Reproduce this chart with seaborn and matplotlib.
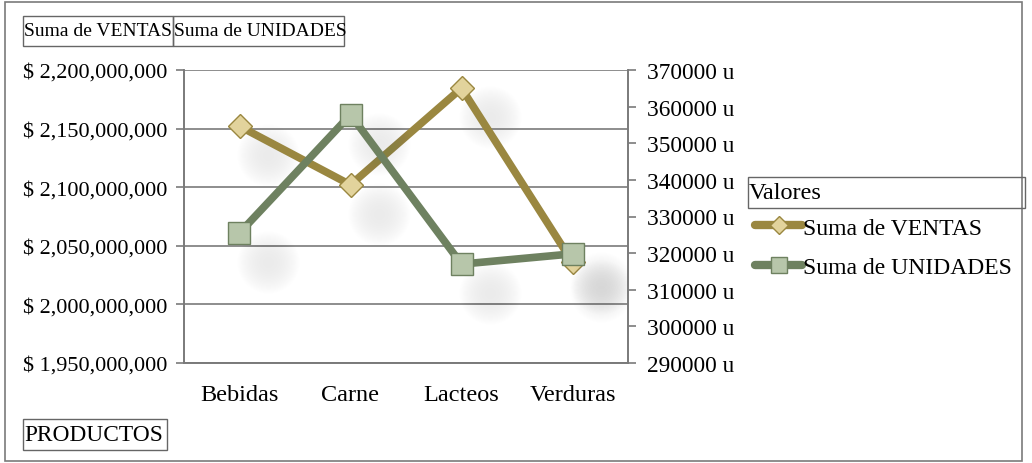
import numpy as np
import pandas as pd
import matplotlib
matplotlib.use("Agg")
import matplotlib.pyplot as plt
import seaborn as sns
from matplotlib.patches import Rectangle
from matplotlib.lines import Line2D
from matplotlib.ticker import FuncFormatter, MultipleLocator
from matplotlib.transforms import ScaledTranslation

# -------------------------
# Data
# -------------------------
productos = ["Bebidas", "Carne", "Lacteos", "Verduras"]
ventas = [2152000000, 2102000000, 2184500000, 2036000000]
unidades = [325500, 357800, 317000, 319800]

ventas_ticks = [1950000000, 2000000000, 2050000000, 2100000000, 2150000000, 2200000000]
unidades_ticks = [290000, 300000, 310000, 320000, 330000, 340000, 350000, 360000, 370000]

df = pd.DataFrame({"PRODUCTOS": productos, "VENTAS": ventas, "UNIDADES": unidades})
df["pos"] = range(len(productos))

# colours
c_ventas = "#9a8740"
c_ventas_face = "#e2d39c"
c_unid = "#6e8160"
c_unid_face = "#b7c6aa"
grey = "#7a7a7a"

sns.set_style("white")
plt.rcParams["font.family"] = ["Liberation Serif", "DejaVu Serif"]
plt.rcParams["text.color"] = "black"
plt.rcParams["xtick.labelcolor"] = "black"
plt.rcParams["ytick.labelcolor"] = "black"

W, H = 1032, 464
fig = plt.figure(figsize=(W / 100, H / 100), dpi=100)


def fx(x):
    return x / W


def fy(y):
    return 1 - y / H


ax = fig.add_axes([fx(184), fy(364), fx(628) - fx(184), fy(71) - fy(364)])
ax2 = ax.twinx()

# soft shadows under the markers
shadow = ax.transData + ScaledTranslation(0.28, -0.29, fig.dpi_scale_trans)
shadow2 = ax2.transData + ScaledTranslation(0.28, -0.29, fig.dpi_scale_trans)
for s in np.linspace(2000, 60, 20):
    ax.scatter(df["pos"], df["VENTAS"], s=s, color="#808080", alpha=0.006,
               linewidths=0, transform=shadow, zorder=0)
    ax2.scatter(df["pos"], df["UNIDADES"], s=s, color="#808080", alpha=0.006,
                linewidths=0, transform=shadow2, zorder=0)

sns.lineplot(data=df, x="pos", y="VENTAS", ax=ax, color=c_ventas, linewidth=5.5,
             marker="D", markersize=12.5, markerfacecolor=c_ventas_face,
             markeredgecolor=c_ventas, markeredgewidth=1, zorder=3)
sns.lineplot(data=df, x="pos", y="UNIDADES", ax=ax2, color=c_unid, linewidth=5.5,
             marker="s", markersize=16, markerfacecolor=c_unid_face,
             markeredgecolor=c_unid, markeredgewidth=1, zorder=3)

# left axis
ax.set_ylim(ventas_ticks[0], ventas_ticks[-1])
ax.set_yticks(ventas_ticks)
ax.yaxis.set_major_formatter(FuncFormatter(lambda v, p: "$ {:,.0f}".format(v)))
ax.grid(axis="y", color=grey, linewidth=1.2)
ax.set_axisbelow(True)

# right axis
ax2.set_ylim(unidades_ticks[0], unidades_ticks[-1])
ax2.set_yticks(unidades_ticks)
ax2.yaxis.set_major_formatter(FuncFormatter(lambda v, p: "{:.0f} u".format(v)))
ax2.grid(False)

# category axis
ax.set_xlim(-0.5, len(productos) - 0.5)
ax.set_xticks(df["pos"])
ax.set_xticklabels(productos)
ax.xaxis.set_minor_locator(MultipleLocator(1, offset=0.5))
ax.tick_params(axis="x", which="major", length=0, pad=15, labelsize=17.5)
ax.tick_params(axis="x", which="minor", length=6, width=1.2, color=grey, direction="out")
ax.tick_params(axis="y", length=6, width=1.2, color=grey, direction="out", labelsize=16, pad=6)
ax2.tick_params(axis="y", length=6, width=1.2, color=grey, direction="out", labelsize=16.8, pad=8)
ax.set_xlabel("")
ax.set_ylabel("")
ax2.set_ylabel("")

for a in (ax, ax2):
    a.patch.set_alpha(0)
    for side in ("left", "right", "bottom"):
        a.spines[side].set_visible(True)
        a.spines[side].set_color(grey)
        a.spines[side].set_linewidth(1.2)
    a.spines["top"].set_visible(False)

# outer chart frame
fig.add_artist(Rectangle((fx(5), fy(462)), fx(1022) - fx(5), fy(3) - fy(462),
                         transform=fig.transFigure, fill=False, edgecolor=grey, linewidth=1.2))


def label_box(x0, y0, x1, y1, text, size):
    fig.add_artist(Rectangle((fx(x0), fy(y1)), fx(x1) - fx(x0), fy(y0) - fy(y1),
                             transform=fig.transFigure, fill=False, edgecolor="#666666", linewidth=1))
    fig.text(fx(x0 + 1), fy((y0 + y1) / 2), text, fontsize=size, va="center", ha="left")


# field buttons
label_box(23, 17, 173, 47, "Suma de VENTAS", 14)
label_box(173, 17, 344, 47, "Suma de UNIDADES", 14)
label_box(23, 420, 167, 451, "PRODUCTOS", 16.8)
label_box(748, 178, 1025, 209, "Valores", 17.5)

# legend
handles = [
    Line2D([], [], color=c_ventas, linewidth=6, solid_capstyle="round", marker="D", markersize=9,
           markerfacecolor=c_ventas_face, markeredgecolor=c_ventas),
    Line2D([], [], color=c_unid, linewidth=6, solid_capstyle="round", marker="s", markersize=11,
           markerfacecolor=c_unid_face, markeredgecolor=c_unid),
]
fig.legend(handles, ["Suma de VENTAS", "Suma de UNIDADES"], loc="upper left",
           bbox_to_anchor=(fx(755), fy(218)), frameon=False, fontsize=17,
           handlelength=2.0, handletextpad=0.05, labelspacing=0.75, borderaxespad=0, borderpad=0)

fig.savefig("out.png", dpi=100)
